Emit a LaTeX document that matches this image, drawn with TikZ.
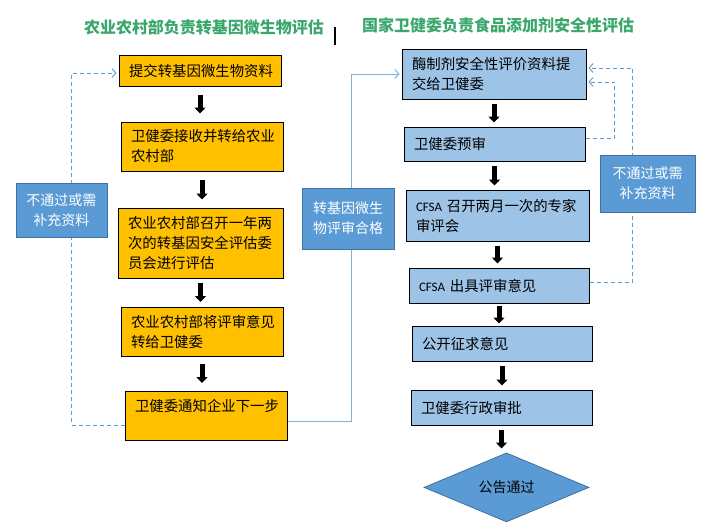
\documentclass[tikz,border=0pt]{standalone}
\usepackage{fontspec}
\setmainfont{Noto Sans CJK SC}
\newfontfamily\cfsalatin{Carlito}
\definecolor{flowOrange}{HTML}{FFC000}
\definecolor{flowLightBlue}{HTML}{9DC3E6}
\definecolor{flowBlue}{HTML}{5B9BD5}
\definecolor{flowDarkBlue}{HTML}{41719C}
\definecolor{flowGreen}{HTML}{3AA76D}
\definecolor{flowLink}{HTML}{7FB0DE}
\newcommand{\cfsafont}{\cfsalatin\fontsize{13}{20}\selectfont}
\usepackage{tikz}
\usetikzlibrary{arrows.meta, positioning, shapes.geometric}
\tikzset{
    gmo node/.style={rectangle, draw=black, fill=flowOrange, line width=1pt, inner xsep=10pt, inner ysep=0pt, align=left, font=\fontsize{14.4}{20}\selectfont},
    food node/.style={rectangle, draw=black, fill=flowLightBlue, line width=1pt, inner xsep=10pt, inner ysep=0pt, align=left, font=\fontsize{14.4}{20}\selectfont},
    note node/.style={rectangle, draw=flowDarkBlue, fill=flowBlue, line width=0.8pt, text=white, inner sep=0pt, align=center, font=\fontsize{14}{20}\selectfont},
    result node/.style={diamond, draw=flowDarkBlue, fill=flowBlue, line width=0.8pt, inner sep=0pt, align=center, font=\fontsize{14}{20}\selectfont},
    title node/.style={text=flowGreen, font=\bfseries\fontsize{16}{20}\selectfont},
    block arrow/.style={-{Triangle[width=11pt, length=6pt]}, line width=5pt, black, shorten <=#1, shorten >=#1},
    block arrow/.default=4pt,
    retry link/.style={-{Straight Barb[length=4pt, width=9pt]}, flowBlue, line width=0.9pt, dash pattern=on 4pt off 3pt, shorten >=2pt},
    pass link/.style={-{Straight Barb[length=4pt, width=9pt]}, flowLink, line width=1pt, shorten >=2pt},
}

\begin{document}
\begin{tikzpicture}[x=1pt, y=1pt]
    \useasboundingbox (0,0) rectangle (713,-528);
    \node[title node] (gmotitle) at (204,-27) {农业农村部负责转基因微生物评估};
    \node[title node] (foodtitle) at (498,-25) {国家卫健委负责食品添加剂安全性评估};
    \draw[line width=1.5pt] (335,-27) -- (335,-45);

    \node[gmo node, text width=142pt, minimum height=31pt] (submit) at (200,-70.5) {提交转基因微生物资料};
    \node[gmo node, text width=142pt, minimum height=49pt, below=35pt of submit, xshift=2pt] (forward) {卫健委接收并转给农业\\农村部};
    \node[gmo node, text width=145pt, minimum height=70pt, below=36pt of forward, xshift=-1.5pt] (committee) {农业农村部召开一年两\\次的转基因安全评估委\\员会进行评估};
    \node[gmo node, text width=142pt, minimum height=49pt, below=28pt of committee, xshift=1.5pt] (opinion) {农业农村部将评审意见\\转给卫健委};
    \node[gmo node, text width=142pt, minimum height=49pt, below=34pt of opinion, xshift=4pt] (notify) {卫健委通知企业下一步\\ \mbox{}};

    \node[food node, text width=164pt, minimum height=50pt] (dossier) at (494,-74) {酶制剂安全性评价资料提\\交给卫健委};
    \node[food node, text width=161pt, minimum height=34pt, below=27pt of dossier, xshift=0.5pt] (precheck) {卫健委预审};
    \node[food node, text width=163pt, minimum height=51pt, below=28pt of precheck, xshift=3pt] (expert) {{\cfsafont CFSA} 召开两月一次的专家\\审评会};
    \node[food node, text width=160pt, minimum height=35pt, below=26pt of expert, xshift=1.5pt] (review) {{\cfsafont CFSA} 出具评审意见};
    \node[food node, text width=160pt, minimum height=35pt, below=22pt of review, xshift=3pt] (consult) {公开征求意见};
    \node[food node, text width=161pt, minimum height=35pt, below=28pt of consult, xshift=-0.5pt] (approve) {卫健委行政审批};
    \node[result node, minimum width=165pt, minimum height=65pt, below=27pt of approve, xshift=5pt] (publish) {公告通过};

    \draw[block arrow=8pt] (submit.south) -- (submit.south |- forward.north);
    \draw[block arrow=8pt] (forward.south) -- (forward.south |- committee.north);
    \draw[block arrow=4.5pt] (committee.south) -- (committee.south |- opinion.north);
    \draw[block arrow=7.5pt] (opinion.south) -- (opinion.south |- notify.north);

    \draw[block arrow] (dossier.south) -- (dossier.south |- precheck.north);
    \draw[block arrow] (precheck.south) -- (precheck.south |- expert.north);
    \draw[block arrow] (expert.south) -- (expert.south |- review.north);
    \draw[block arrow=2pt] (review.south) -- (review.south |- consult.north);
    \draw[block arrow] (consult.south) -- (consult.south |- approve.north);
    \draw[block arrow] (approve.south) -- (approve.south |- publish.north);

    \draw[retry link] ([yshift=-9.5pt]notify.west) -| ([xshift=-47pt, yshift=-2.5pt]submit.west) -- ([yshift=-2.5pt]submit.west);
    \draw[pass link] ([yshift=-5.5pt]notify.east) -| ([xshift=-50pt]dossier.west) -- (dossier.west);
    \draw[retry link] ([yshift=6pt]precheck.east) -| ([xshift=28pt, yshift=-8pt]dossier.east) -- ([yshift=-8pt]dossier.east);
    \draw[retry link] ([yshift=3.5pt]review.east) -| ([xshift=46pt, yshift=6pt]dossier.east) -- ([yshift=6pt]dossier.east);

    \node[note node, minimum width=91pt, minimum height=54pt] (gmoretry) at (61.5,-210) {不通过或需\\补充资料};
    \node[note node, minimum width=92pt, minimum height=61pt] (gmopass) at (348,-218.5) {转基因微生\\物评审合格};
    \node[note node, minimum width=95pt, minimum height=57pt] (foodretry) at (647.5,-183.5) {不通过或需\\补充资料};
\end{tikzpicture}
\end{document}
